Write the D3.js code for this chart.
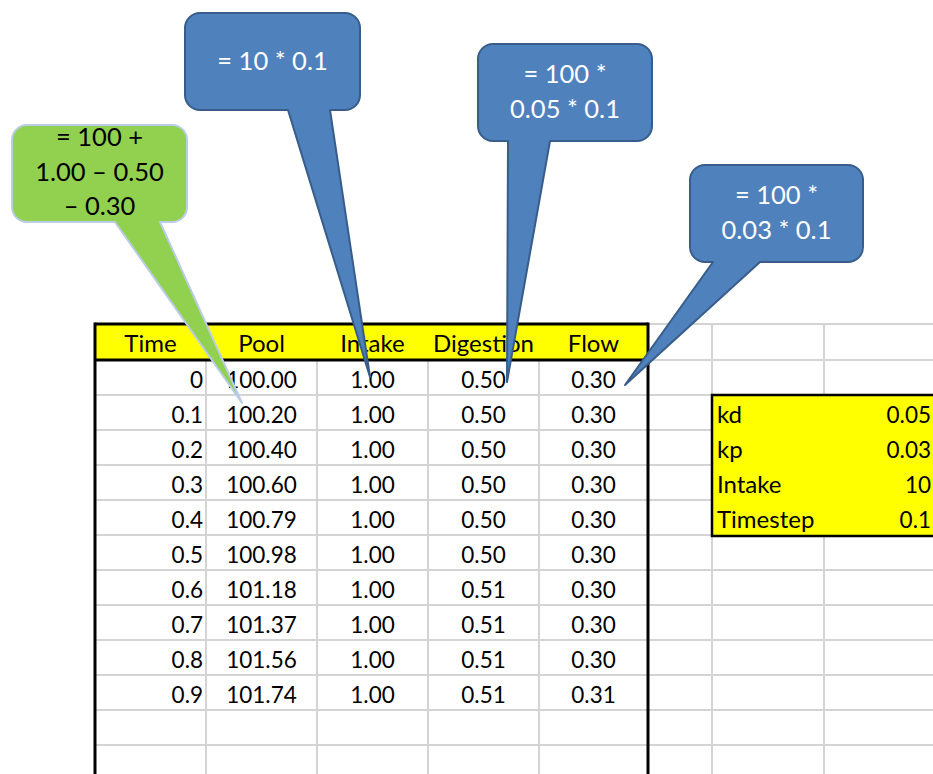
<!DOCTYPE html>
<html><head><meta charset="utf-8">
<script src="https://cdn.jsdelivr.net/npm/d3@7"></script>
<style>html,body{margin:0;padding:0;background:#fff;}svg{display:block;}</style>
</head><body>
<script>
const headers = ["Time","Pool","Intake","Digestion","Flow"];
const times = [0,0.1,0.2,0.3,0.4,0.5,0.6,0.7,0.8,0.9];
const pool = [100.00,100.20,100.40,100.60,100.79,100.98,101.18,101.37,101.56,101.74];
const intake = [1.00,1.00,1.00,1.00,1.00,1.00,1.00,1.00,1.00,1.00];
const digestion = [0.50,0.50,0.50,0.50,0.50,0.50,0.51,0.51,0.51,0.51];
const flow = [0.30,0.30,0.30,0.30,0.30,0.30,0.30,0.30,0.30,0.31];
const paramNames = ["kd","kp","Intake","Timestep"];
const paramValues = ["0.05","0.03","10","0.1"];
const calloutTexts = [
  ["= 100 +","1.00 \u2013 0.50","\u2013 0.30"],
  ["= 10 * 0.1"],
  ["= 100 *","0.05 * 0.1"],
  ["= 100 *","0.03 * 0.1"]
];

const W = 933, H = 774;
const svg = d3.select("body").append("svg").attr("width", W).attr("height", H);
const font = "Lato, Carlito, 'Open Sans', sans-serif";
const numSize = 22.5, labelSize = 24, calloutSize = 25.5;

const colX = d3.scaleLinear().domain([0,5]).range([95,650]);
const rowY = d3.scaleLinear().domain([0,1]).range([360,395]);
const headerTop = 324;
const tableRight = 648;
const extraCols = [712, 824];
const nRows = 13;
const grid = "#d4d4d4";

// right-area grid
const g = svg.append("g");
g.append("line").attr("x1",tableRight).attr("x2",W).attr("y1",headerTop).attr("y2",headerTop).attr("stroke",grid).attr("stroke-width",2);
d3.range(0,nRows).forEach(i=>{
  g.append("line").attr("x1",tableRight).attr("x2",W).attr("y1",rowY(i)).attr("y2",rowY(i)).attr("stroke",grid).attr("stroke-width",2);
});
extraCols.forEach(x=>{
  g.append("line").attr("x1",x).attr("x2",x).attr("y1",headerTop).attr("y2",H).attr("stroke",grid).attr("stroke-width",2);
});
// body grid
d3.range(1,nRows).forEach(i=>{
  g.append("line").attr("x1",colX(0)).attr("x2",tableRight).attr("y1",rowY(i)).attr("y2",rowY(i)).attr("stroke",grid).attr("stroke-width",2);
});
d3.range(1,5).forEach(c=>{
  g.append("line").attr("x1",colX(c)).attr("x2",colX(c)).attr("y1",rowY(0)).attr("y2",H).attr("stroke",grid).attr("stroke-width",2);
});

// header
svg.append("rect").attr("x",colX(0)).attr("y",headerTop).attr("width",tableRight-colX(0)).attr("height",rowY(0)-headerTop).attr("fill","#ffff00");
svg.selectAll("text.hdr").data(headers).join("text").attr("class","hdr")
  .attr("x",(d,i)=> i===4 ? (colX(4)+tableRight)/2 : (colX(i)+colX(i+1))/2)
  .attr("y",headerTop+28).attr("text-anchor","middle")
  .attr("font-family",font).attr("font-size",labelSize).attr("fill","#000").text(d=>d);

// body values
const rows = times.map((t,i)=>({i, vals:[String(t), pool[i].toFixed(2), intake[i].toFixed(2), digestion[i].toFixed(2), flow[i].toFixed(2)]}));
rows.forEach(r=>{
  r.vals.forEach((v,c)=>{
    svg.append("text")
      .attr("x", c===0 ? colX(1)-3 : (c===4 ? (colX(4)+tableRight)/2 : (colX(c)+colX(c+1))/2))
      .attr("y", rowY(r.i)+28)
      .attr("text-anchor", c===0 ? "end" : "middle")
      .attr("font-family",font).attr("font-size",numSize).attr("fill","#000").text(v);
  });
});

// thick borders
const bw = 3;
svg.append("line").attr("x1",colX(0)).attr("x2",colX(0)).attr("y1",headerTop-1.5).attr("y2",H).attr("stroke","#000").attr("stroke-width",bw);
svg.append("line").attr("x1",tableRight).attr("x2",tableRight).attr("y1",headerTop-1.5).attr("y2",H).attr("stroke","#000").attr("stroke-width",bw);
svg.append("line").attr("x1",colX(0)).attr("x2",tableRight).attr("y1",headerTop).attr("y2",headerTop).attr("stroke","#000").attr("stroke-width",bw);
svg.append("line").attr("x1",colX(0)).attr("x2",tableRight).attr("y1",rowY(0)).attr("y2",rowY(0)).attr("stroke","#000").attr("stroke-width",bw);

// params box
const px0 = extraCols[0], px1 = W + 10;
svg.append("rect").attr("x",px0).attr("y",rowY(1)).attr("width",px1-px0).attr("height",rowY(5)-rowY(1)+1)
  .attr("fill","#ffff00").attr("stroke","#000").attr("stroke-width",2.5);
paramNames.forEach((n,i)=>{
  svg.append("text").attr("x",px0+5).attr("y",rowY(i+1)+28).attr("font-family",font).attr("font-size",labelSize).attr("fill","#000").text(n);
  svg.append("text").attr("x",W-2).attr("y",rowY(i+1)+28).attr("text-anchor","end").attr("font-family",font).attr("font-size",numSize).attr("fill","#000").text(paramValues[i]);
});

// callouts
const callouts = [
  {x:12,y:125,w:175,h:97,bl:115,br:160,tx:242,ty:403,fill:"#92d050",stroke:"#b9cde5",color:"#000"},
  {x:185,y:13,w:175,h:97,bl:288,br:330,tx:370,ty:377,fill:"#4f81bd",stroke:"#385d8a",color:"#fff"},
  {x:478,y:44,w:174,h:97,bl:508,br:550,tx:507,ty:382,fill:"#4f81bd",stroke:"#385d8a",color:"#fff"},
  {x:690,y:165,w:173,h:97,bl:713,br:760,tx:625,ty:385,fill:"#4f81bd",stroke:"#385d8a",color:"#fff"}
];
function calloutPath(c){
  const r = 15, x0=c.x, y0=c.y, x1=c.x+c.w, y1=c.y+c.h;
  const p = d3.path();
  p.moveTo(x0+r,y0);
  p.lineTo(x1-r,y0); p.arcTo(x1,y0,x1,y0+r,r);
  p.lineTo(x1,y1-r); p.arcTo(x1,y1,x1-r,y1,r);
  p.lineTo(c.br,y1); p.lineTo(c.tx,c.ty); p.lineTo(c.bl,y1);
  p.lineTo(x0+r,y1); p.arcTo(x0,y1,x0,y1-r,r);
  p.lineTo(x0,y0+r); p.arcTo(x0,y0,x0+r,y0,r);
  p.closePath();
  return p.toString();
}
callouts.forEach((c,k)=>{
  svg.append("path").attr("d",calloutPath(c)).attr("fill",c.fill).attr("stroke",c.stroke).attr("stroke-width",2).attr("stroke-linejoin","round");
  const lines = calloutTexts[k];
  const lh = 34.5;
  const cy = c.y + c.h/2 - (k===0 ? 2 : 1);
  lines.forEach((t,j)=>{
    svg.append("text").attr("x",c.x+c.w/2).attr("y",cy + (j-(lines.length-1)/2)*lh + 9)
      .attr("text-anchor","middle").attr("font-family",font).attr("font-size",calloutSize).attr("fill",c.color).text(t);
  });
});
</script>
</body></html>
